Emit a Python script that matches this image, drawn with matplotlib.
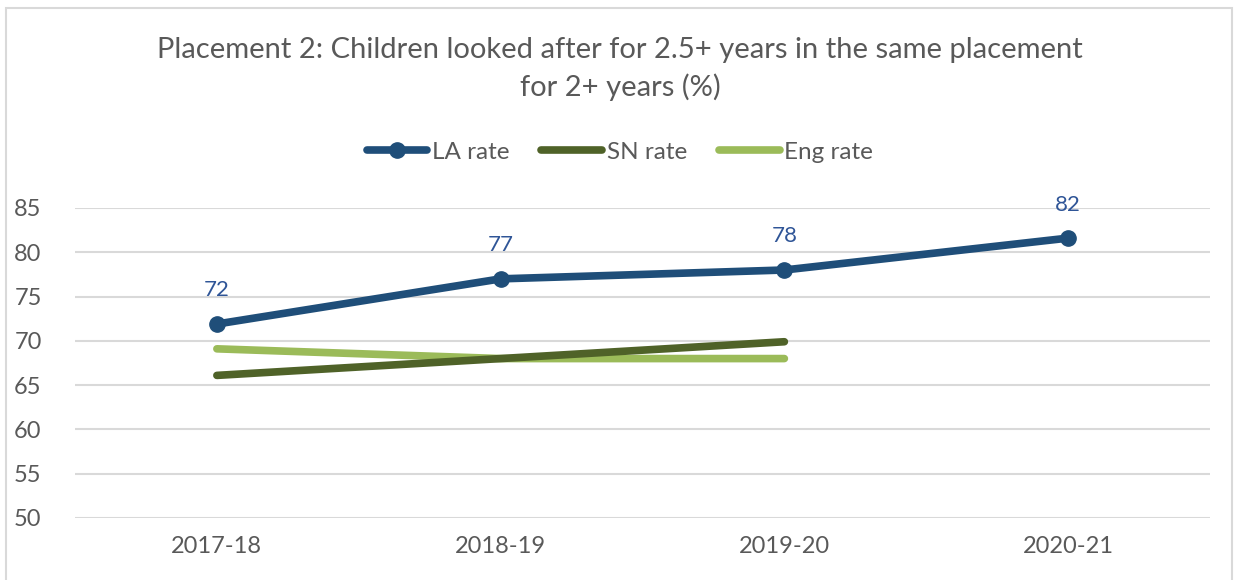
import numpy as np
import pandas as pd
import matplotlib.pyplot as plt
from matplotlib.patches import Rectangle

# chart data
years = ['2017-18', '2018-19', '2019-20', '2020-21']
la_rate = [71.9, 77.0, 78.0, 81.6]
la_labels = ['72', '77', '78', '82']
sn_rate = [66.1, 68.0, 69.9]
eng_rate = [69.1, 68.0, 68.0]

plt.rcParams['font.family'] = ['Lato', 'DejaVu Sans']

fig = plt.figure(figsize=(12.4, 5.8), dpi=100)
ax = fig.add_axes([75 / 1240, 1 - 518 / 580, 1135 / 1240, 310 / 580])

# outer chart border
fig.patches.append(Rectangle((6 / 1240, -0.05), 1226 / 1240, 1.05 - 8 / 580,
                             transform=fig.transFigure, fill=False,
                             edgecolor='#d9d9d9', linewidth=1.5))

x = np.arange(len(years))
ax.plot(x, la_rate, color='#1f4e79', linewidth=5.5, marker='o', markersize=11,
        solid_capstyle='round', label='LA rate', zorder=4)
ax.plot(x[:3], sn_rate, color='#4f6228', linewidth=5.5,
        solid_capstyle='round', label='SN rate', zorder=3)
ax.plot(x[:3], eng_rate, color='#9bbb59', linewidth=5.5,
        solid_capstyle='round', label='Eng rate', zorder=2)

for xi, v, t in zip(x, la_rate, la_labels):
    ax.annotate(t, (xi, v), xytext=(0, 17), textcoords='offset points',
                ha='center', va='bottom', fontsize=16, color='#2f5597')

ax.set_xlim(-0.5, 3.5)
ax.set_ylim(50, 85)
ax.set_yticks(range(50, 86, 5))
ax.set_xticks(x)
ax.set_xticklabels(years)
ax.grid(axis='y', color='#d9d9d9', linewidth=1.5)
ax.set_axisbelow(True)
for s in ax.spines.values():
    s.set_visible(False)
ax.tick_params(length=0, labelsize=17, labelcolor='#595959')
ax.tick_params(axis='y', pad=24)
ax.tick_params(axis='x', pad=13)

fig.text(0.5, 1 - 69 / 580,
         'Placement 2: Children looked after for 2.5+ years in the same placement\nfor 2+ years (%)',
         ha='center', va='center', fontsize=21, color='#595959', linespacing=1.45)

fig.legend(loc='center', bbox_to_anchor=(0.5, 1 - 152 / 580), ncol=3,
           frameon=False, fontsize=17.5, handlelength=2.5, columnspacing=1.3,
           handletextpad=0.2, labelcolor='#595959')

fig.savefig('out.png', dpi=100)
